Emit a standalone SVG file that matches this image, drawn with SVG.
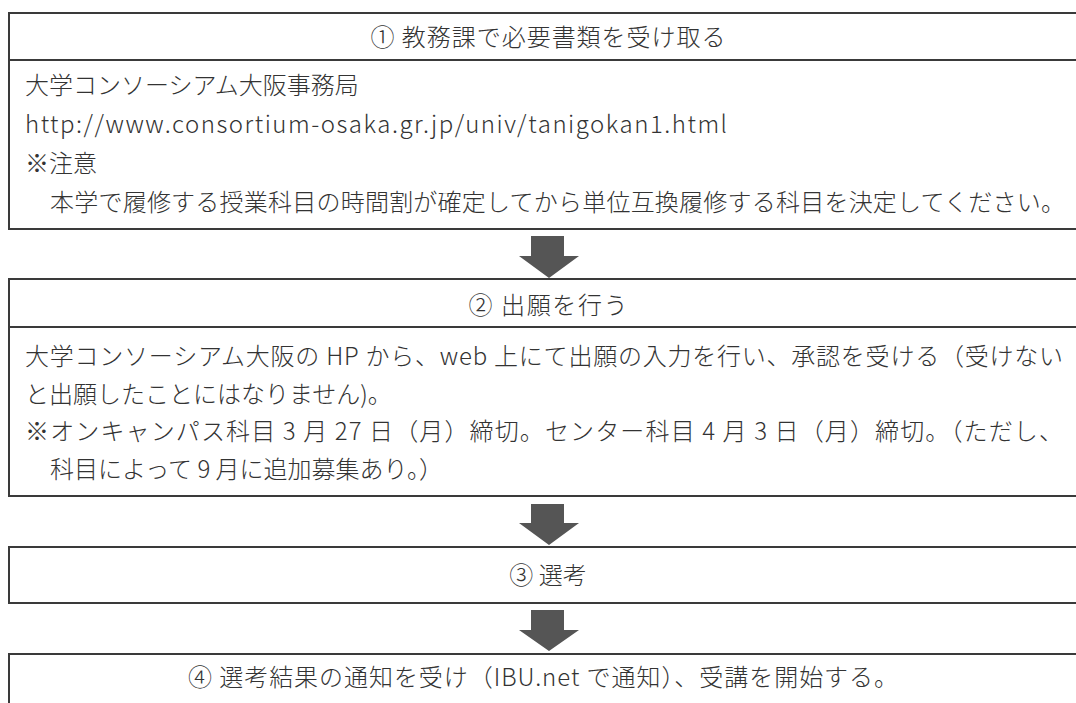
<svg xmlns="http://www.w3.org/2000/svg" width="1076" height="703" viewBox="0 0 1076 703">
<style>
.box{fill:#fff;stroke:#3a3a3a;stroke-width:2}
.sep{stroke:#3a3a3a;stroke-width:2}
text{font-family:"Noto Sans CJK JP","Noto Sans",sans-serif;font-size:24px;font-weight:300;fill:#333}
.c{text-anchor:middle}
.arrow{fill:#555}
</style>
<rect width="1076" height="703" fill="#fff"/>
<g id="node1">
<rect class="box" x="9" y="13" width="1090" height="216"/>
<line class="sep" x1="9" y1="60" x2="1099" y2="60"/>
<text class="c" x="548" y="46" textLength="355" lengthAdjust="spacing">① 教務課で必要書類を受け取る</text>
<text x="25" y="94">大学コンソーシアム大阪事務局</text>
<text x="25" y="133" textLength="702" lengthAdjust="spacing">http://www.consortium-osaka.gr.jp/univ/tanigokan1.html</text>
<text x="25" y="172">※注意</text>
<text x="50" y="211" textLength="1015" lengthAdjust="spacing">本学で履修する授業科目の時間割が確定してから単位互換履修する科目を決定してください。</text>
</g>
<g id="node2">
<rect class="box" x="9" y="279" width="1090" height="217"/>
<line class="sep" x1="9" y1="327" x2="1099" y2="327"/>
<text class="c" x="548" y="314" textLength="159" lengthAdjust="spacing">② 出願を行う</text>
<text x="25" y="365" textLength="1038" lengthAdjust="spacing">大学コンソーシアム大阪の HP から、web 上にて出願の入力を行い、承認を受ける（受けない</text>
<text x="25" y="403">と出願したことにはなりません)。</text>
<text x="25" y="440" textLength="1038" lengthAdjust="spacing">※オンキャンパス科目 3 月 27 日（月）締切。センター科目 4 月 3 日（月）締切。（ただし、</text>
<text x="50" y="478">科目によって 9 月に追加募集あり。）</text>
</g>
<g id="node3">
<rect class="box" x="9" y="547" width="1090" height="56"/>
<text class="c" x="548" y="584">③ 選考</text>
</g>
<g id="node4">
<rect class="box" x="9" y="654" width="1090" height="80"/>
<text class="c" x="543" y="686" textLength="710" lengthAdjust="spacing">④ 選考結果の通知を受け（IBU.net で通知）、受講を開始する。</text>
</g>
<g id="connectors">
<polygon class="arrow" points="531,236 564,236 564,256 579,256 549,278 519,256 531,256"/>
<polygon class="arrow" points="531,504 564,504 564,523 579,523 549,545 519,523 531,523"/>
<polygon class="arrow" points="531,610 564,610 564,630 579,630 549,651 519,630 531,630"/>
</g>
</svg>
